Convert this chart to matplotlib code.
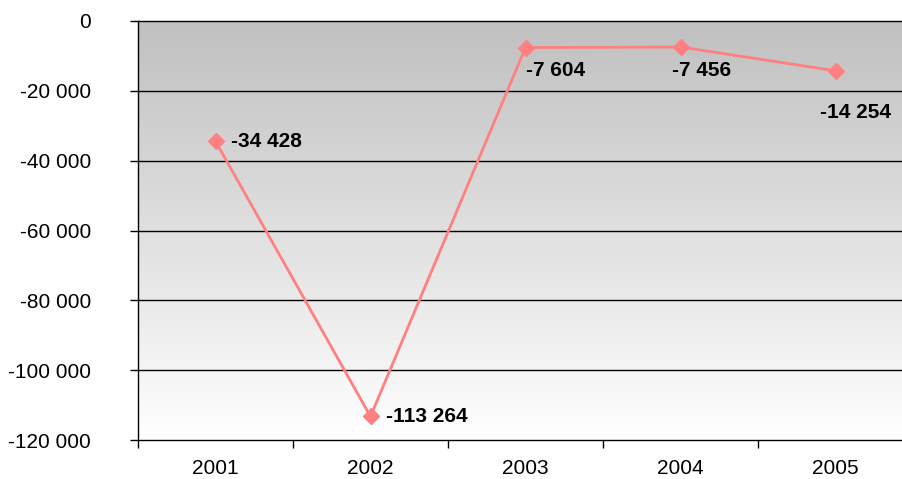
import numpy as np
import matplotlib
matplotlib.use("Agg")
import matplotlib.pyplot as plt
from matplotlib.ticker import FixedLocator, NullFormatter

plt.rcParams['font.family'] = ['Liberation Sans', 'DejaVu Sans']

years = ["2001", "2002", "2003", "2004", "2005"]
values = [-34428, -113264, -7604, -7456, -14254]
labels = ["-34 428", "-113 264", "-7 604", "-7 456", "-14 254"]
yticks = [0, -20000, -40000, -60000, -80000, -100000, -120000]
ytick_labels = ["0", "-20 000", "-40 000", "-60 000", "-80 000", "-100 000", "-120 000"]

# label offsets in points (dx, dy, ha, va)
label_pos = [(11, 0, 'left', 'center'),
             (11, 0, 'left', 'center'),
             (0, -10, 'left', 'top'),
             (-6, -10, 'left', 'top'),
             (-11, -23, 'left', 'top')]

fig = plt.figure(figsize=(9.02, 4.79), dpi=100)
ax = fig.add_axes([138 / 902, 39 / 479, 775 / 902, 419 / 479])

x = np.arange(len(years))
ax.set_xlim(-0.5, len(years) - 0.5)
ax.set_ylim(-120000, 0)

# gradient background: gray at top, white at bottom
grad = np.linspace(0, 1, 256).reshape(-1, 1)
cmap = matplotlib.colors.LinearSegmentedColormap.from_list('g', ['#c0c0c0', '#ffffff'])
ax.imshow(grad, cmap=cmap, aspect='auto', origin='upper',
          extent=(-0.5, len(years) - 0.5, -120000, 0), zorder=0)
ax.set_ylim(-120000, 0)

for yv in yticks[1:-1]:
    ax.axhline(yv, color='black', lw=1, zorder=1)

ax.plot(x, values, color='#ff8080', lw=2, marker='D', ms=8,
        markeredgecolor='#ff8080', zorder=3, clip_on=False)

for i, (v, t) in enumerate(zip(values, labels)):
    dx, dy, ha, va = label_pos[i]
    ax.annotate(t, (x[i], v), xytext=(dx, dy), textcoords='offset points',
                ha=ha, va=va, fontsize=15, fontweight='bold', zorder=4)

ax.set_yticks(yticks)
ax.set_yticklabels(ytick_labels, fontsize=15)
ax.tick_params(axis='y', direction='out', length=6, width=1, pad=28)

ax.xaxis.set_major_locator(FixedLocator(np.arange(-0.5, len(years), 1)))
ax.xaxis.set_major_formatter(NullFormatter())
ax.xaxis.set_minor_locator(FixedLocator(x))
ax.set_xticklabels(years, minor=True, fontsize=15)
ax.tick_params(axis='x', which='major', direction='out', length=6, width=1)
ax.tick_params(axis='x', which='minor', length=0, pad=14)

for s in ['left', 'bottom', 'top']:
    ax.spines[s].set_color('black')
    ax.spines[s].set_linewidth(1)
ax.spines['right'].set_visible(False)

fig.savefig("out.png", dpi=100)
